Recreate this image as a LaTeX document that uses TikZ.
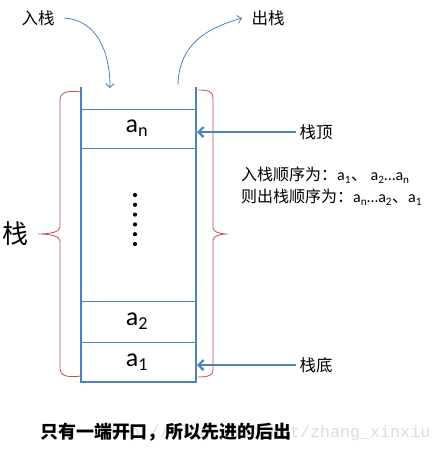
\documentclass[tikz,border=0pt]{standalone}
\usepackage{fontspec}
\setmainfont{Carlito}
\newfontfamily\cjk{Noto Sans CJK SC}
\newfontfamily\wmfont{Liberation Mono}
\usetikzlibrary{arrows.meta}

\definecolor{stackblue}{HTML}{4F81BD}
\definecolor{bracered}{HTML}{C0504D}
\definecolor{markgray}{HTML}{DCDCDC}

\begin{document}
\begin{tikzpicture}[x=1pt,y=-1pt]

% -------------------------------------------------------
% Layout parameters (pixel grid, y downwards)
% -------------------------------------------------------
\def\xL{81}      % left wall
\def\xR{196}     % right wall
\def\xM{137}     % middle of the stack
\def\yTop{87}    % open top
\def\yBot{382}   % closed bottom

\tikzstyle{wall} = [stackblue, line width=2pt];
\tikzstyle{slot} = [stackblue, line width=0.9pt];
\tikzstyle{bracket} = [bracered, line width=0.8pt];
\tikzstyle{pointer} = [stackblue, line width=2.2pt, -{Straight Barb[length=5pt,width=10pt]}];
\tikzstyle{flow} = [stackblue, line width=0.8pt, -{Straight Barb[length=4pt,width=8pt]}];
\tikzstyle{cjklabel} = [font=\fontsize{16.5}{18}\selectfont\cjk];
\tikzstyle{cell} = [font=\fontsize{26}{28}\selectfont];

\useasboundingbox (0,0) rectangle (444,453);

%%%%%% STACK WALLS
\draw[wall] (\xL,\yTop) -- (\xL,\yBot) -- (\xR,\yBot) -- (\xR,\yTop);

% slot separators
\foreach \y in {109,148,301,342}
  \draw[slot] (\xL,\y) -- (\xR,\y);

%%%%%% ELEMENTS
\node[cell] (an) at (\xM,128) {a\textsubscript{n}};
\node[cell] (a2) at (\xM,321) {a\textsubscript{2}};
\node[cell] (a1) at (\xM,362) {a\textsubscript{1}};

% dots between a_n and a_2
\foreach \i in {0,...,5}
  \fill (135,195+9.8*\i) circle (2.1);

%%%%%% BRACES
% left brace, whole stack
\draw[bracket] (\xL,92) .. controls (66,90) and (60,93) .. (60,100)
  -- (60,227) .. controls (60,232) and (50,234) .. (38,234)
  .. controls (50,234) and (60,236) .. (60,241)
  -- (60,369) .. controls (60,375) and (66,378) .. (\xL,376);
\node[font=\fontsize{26}{28}\selectfont\cjk] (stk) at (15,234) {栈};

% right brace
\draw[bracket] (198,90) .. controls (209,90) and (213,92) .. (213,98)
  -- (213,228) .. controls (213,232) and (220,234) .. (228,234)
  .. controls (220,234) and (213,236) .. (213,240)
  -- (213,370) .. controls (213,375) and (209,377) .. (198,377);

%%%%%% TOP AND BOTTOM POINTERS
\coordinate (topend) at (197,132);
\coordinate (botend) at (197,365);
\node[cjklabel] (top) at (316,132) {栈顶};
\node[cjklabel] (bot) at (316,365) {栈底};
\draw[pointer] (top.west) -- (topend);
\draw[pointer] (bot.west) -- (botend);

%%%%%% PUSH / POP
\node[cjklabel] (push) at (38,18) {入栈};
\node[cjklabel] (pop) at (268,18) {出栈};
\coordinate (pushend) at (110,88);
\coordinate (popstart) at (178,85);
\draw[flow] ([xshift=6pt]push.east) .. controls +(32,2) and +(0,-38) .. (pushend);
\draw[flow] (popstart) .. controls +(1,-42) and +(-34,10) .. ([xshift=-6pt]pop.west);

%%%%%% ORDER NOTE
\node[anchor=west, align=left, inner sep=0pt, font=\fontsize{16}{22}\selectfont] (order) at (241,186)
  {{\cjk 入栈顺序为：}a\textsubscript{1}{\cjk 、} a\textsubscript{2}…a\textsubscript{n}\\
   {\cjk 则出栈顺序为：}a\textsubscript{n}…a\textsubscript{2}{\cjk 、}a\textsubscript{1}};

%%%%%% CAPTION
\node[text=markgray, font=\fontsize{16.7}{18}\selectfont\wmfont] (mark) at (265,433)
  {http://blog.csdn.net/zhang\_xinxiu};
\node[font=\fontsize{18}{20}\selectfont\cjk\bfseries] (caption) at (166,432)
  {只有一端开口，所以先进的后出};

\end{tikzpicture}
\end{document}
